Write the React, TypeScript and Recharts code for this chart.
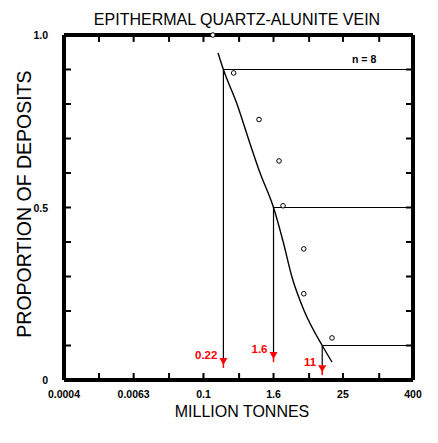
import React from 'react';
import {
  ComposedChart, XAxis, YAxis, Line, Scatter, ReferenceLine,
} from 'recharts';

const title = 'EPITHERMAL QUARTZ-ALUNITE VEIN';
const xTitle = 'MILLION TONNES';
const yTitle = 'PROPORTION OF DEPOSITS';
const nLabel = 'n = 8';

const xTicks = [0.0004, 0.0016, 0.0063, 0.0256, 0.1, 0.41, 1.6, 6.55, 25, 105, 400];
const xTickLabels = [0.0004, 0.0063, 0.1, 1.6, 25, 400];
const yTicks = [0, 0.1, 0.2, 0.3, 0.4, 0.5, 0.6, 0.7, 0.8, 0.9, 1.0];
const yTickLabels: Record<string, string> = { '0': '0', '0.5': '0.5', '1': '1.0' };

// observed deposits
const depositTonnes = [0.145, 0.33, 0.9, 1.99, 2.33, 5.3, 5.3, 16.2];
const depositProportion = [1.0, 0.89, 0.755, 0.635, 0.505, 0.38, 0.25, 0.122];

// fitted curve
const curveTonnes = [0.178, 0.22, 0.377, 0.59, 0.94, 1.6, 2.35, 3.3, 5.4, 11, 16.2];
const curveProportion = [0.948, 0.9, 0.8, 0.7, 0.6, 0.5, 0.4, 0.3, 0.2, 0.1, 0.052];

// percentile markers
const markerTonnes = [0.22, 1.6, 11];
const markerLevels = [0.9, 0.5, 0.1];
const markerArrowTop = [0.064, 0.081, 0.043];
const markerLabels = ['0.22', '1.6', '11'];

const X_MIN = 0.0004;
const X_MAX = 400;
// inward tick-mark length, expressed in axis units
const Y_TICK_LEN = 0.02;
const X_TICK_FACTOR = 1.32;

const deposits = depositTonnes.map((x, i) => ({ x, y: depositProportion[i] }));
const curve = curveTonnes.map((x, i) => ({ x, y: curveProportion[i] }));
const arrows = markerTonnes.map((x, i) => ({ x, y: markerArrowTop[i], label: markerLabels[i] }));

const FONT = '"Liberation Sans", Arial, sans-serif';

const BottomTick = (props: any) => {
  const v = props.payload.value;
  const px = Number(props.x);
  const py = Number(props.y);
  return (
    <g>
      <rect x={px - 1} y={py - 7} width={2} height={7} fill="#000" />
      {xTickLabels.includes(v) && (
        <text x={px} y={py + 18} textAnchor="middle" fontSize={10.5} fontWeight="bold" fontFamily={FONT} fill="#000">
          {String(v)}
        </text>
      )}
    </g>
  );
};

const LeftTick = (props: any) => {
  const px = Number(props.x);
  const py = Number(props.y);
  const key = String(Math.round(props.payload.value * 10) / 10);
  const lab = yTickLabels[key];
  return (
    <g>
      <rect x={px} y={py - 1} width={7} height={2} fill="#000" />
      {lab && (
        <text x={px - 16} y={py + 4} textAnchor="end" fontSize={10.5} fontWeight="bold" fontFamily={FONT} fill="#000">
          {lab}
        </text>
      )}
    </g>
  );
};

const Circle = (props: any) => {
  const { cx, cy } = props;
  return <circle cx={cx} cy={cy} r={2.3} fill="#fff" stroke="#000" strokeWidth={1} />;
};

const Arrow = (props: any) => {
  const { cx, cy, payload } = props;
  return (
    <g>
      <path d={`M${cx - 4},${cy} L${cx + 4},${cy} L${cx},${cy + 7} Z`} fill="#ff0000" />
      <rect x={cx - 0.75} y={cy} width={1.5} height={10} fill="#ff0000" />
      <text x={cx - 6} y={cy + 1} textAnchor="end" fontSize={11.5} fontWeight="bold" fontFamily={FONT} fill="#ff0000">
        {payload.label}
      </text>
    </g>
  );
};

const textBase: React.CSSProperties = {
  position: 'absolute',
  fontFamily: FONT,
  color: '#000',
  whiteSpace: 'nowrap',
  pointerEvents: 'none',
};

export default function App() {
  return (
    <div style={{ position: 'absolute', left: 0, top: 0, width: 438, height: 443, background: '#fff' }}>
      <ComposedChart width={438} height={443} margin={{ top: 35, right: 25, left: 0, bottom: 0 }}>
        <XAxis
          xAxisId="b"
          dataKey="x"
          type="number"
          scale="log"
          domain={[X_MIN, X_MAX]}
          ticks={xTicks}
          interval={0}
          allowDataOverflow
          height={63}
          stroke="#000"
          tickSize={0}
          tickMargin={0}
          tick={<BottomTick />}
        />
        <YAxis
          yAxisId="l"
          type="number"
          domain={[0, 1]}
          ticks={yTicks}
          interval={0}
          width={64}
          stroke="#000"
          tickSize={0}
          tickMargin={0}
          tick={<LeftTick />}
        />
        {xTicks.map((t) => (
          <ReferenceLine
            key={'xt' + t}
            xAxisId="b"
            yAxisId="l"
            segment={[{ x: t, y: 1 - Y_TICK_LEN }, { x: t, y: 1 }]}
            stroke="#000"
            strokeWidth={2}
          />
        ))}
        {yTicks.map((t) => (
          <ReferenceLine
            key={'yr' + t}
            xAxisId="b"
            yAxisId="l"
            segment={[{ x: X_MAX / X_TICK_FACTOR, y: t }, { x: X_MAX, y: t }]}
            stroke="#000"
            strokeWidth={2}
          />
        ))}
        {markerTonnes.map((x, i) => (
          <ReferenceLine
            key={'h' + i}
            xAxisId="b"
            yAxisId="l"
            segment={[{ x, y: markerLevels[i] }, { x: X_MAX, y: markerLevels[i] }]}
            stroke="#000"
            strokeWidth={1.2}
          />
        ))}
        {markerTonnes.map((x, i) => (
          <ReferenceLine
            key={'v' + i}
            xAxisId="b"
            yAxisId="l"
            segment={[{ x, y: markerLevels[i] }, { x, y: markerArrowTop[i] }]}
            stroke="#000"
            strokeWidth={1.2}
          />
        ))}
        <Line
          xAxisId="b"
          yAxisId="l"
          data={curve}
          dataKey="y"
          type="monotone"
          stroke="#000"
          strokeWidth={1.4}
          dot={false}
          isAnimationActive={false}
        />
        <ReferenceLine xAxisId="b" yAxisId="l" x={X_MIN} stroke="#000" strokeWidth={4} />
        <ReferenceLine xAxisId="b" yAxisId="l" x={X_MAX} stroke="#000" strokeWidth={4} />
        <ReferenceLine xAxisId="b" yAxisId="l" y={0} stroke="#000" strokeWidth={4} />
        <ReferenceLine xAxisId="b" yAxisId="l" y={1} stroke="#000" strokeWidth={4} />
        <Scatter
          xAxisId="b"
          yAxisId="l"
          data={deposits}
          dataKey="y"
          shape={<Circle />}
          isAnimationActive={false}
        />
        <Scatter
          xAxisId="b"
          yAxisId="l"
          data={arrows}
          dataKey="y"
          shape={<Arrow />}
          isAnimationActive={false}
        />
      </ComposedChart>
      <div style={{ ...textBase, left: 37, top: 11.5, width: 400, textAlign: 'center', fontSize: 16, lineHeight: '16px' }}>
        {title}
      </div>
      <div style={{ ...textBase, left: 42, top: 403.5, width: 400, textAlign: 'center', fontSize: 16, lineHeight: '16px' }}>
        {xTitle}
      </div>
      <div
        style={{
          ...textBase,
          left: 25.2,
          top: 204,
          width: 300,
          height: 19.5,
          textAlign: 'center',
          fontSize: 19.5,
          lineHeight: '19.5px',
          transform: 'translate(-50%, -50%) rotate(-90deg)',
        }}
      >
        {yTitle}
      </div>
      <div style={{ ...textBase, left: 352, top: 54.1, fontSize: 10.5, lineHeight: '10.5px', fontWeight: 'bold' }}>
        {nLabel}
      </div>
    </div>
  );
}
